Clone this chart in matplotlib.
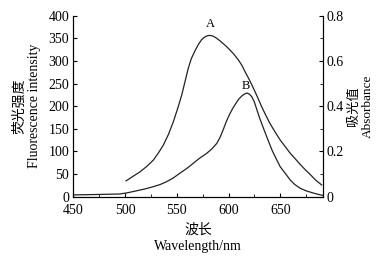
import matplotlib
matplotlib.use('Agg')
import matplotlib.pyplot as plt
from matplotlib.ticker import MultipleLocator

plt.rcParams['font.family'] = ['Liberation Serif', 'Noto Sans CJK SC']
plt.rcParams['font.size'] = 10

# curve A
wl_a = [501, 507, 514.5, 521, 527.4, 532, 537, 542, 546.7, 551, 554.8, 558, 561,
        564, 567.7, 571, 574, 577, 580, 582, 585, 588, 592, 597, 601.5, 605.5,
        609.6, 613, 616, 620, 624, 628, 632, 636, 640, 645, 650, 655, 659.6,
        664, 669, 674, 679, 684, 690]
val_a = [35, 44, 55, 67, 81, 96, 114, 138, 166, 196, 225, 255, 283,
         305, 323, 337, 347, 353, 356, 356.5, 355, 351, 344, 334, 324, 314,
         302, 290, 276, 259, 240, 220, 199, 180, 162, 143, 125, 110, 96,
         85, 72, 60, 49, 37, 26]

# curve B
wl_b = [450, 475, 495, 503, 511, 519, 527, 534, 540, 547, 553, 560, 566, 572,
        579, 584, 588.7, 592, 595, 598, 601, 604, 607, 610, 613, 615.5, 617.7,
        620, 622.5, 625, 627, 630, 633.8, 638, 642, 646, 650, 655, 659.6, 664,
        669, 675, 682, 687, 691]
val_b = [4, 5, 6, 9, 13, 17, 22, 27, 33, 42, 52, 63, 74, 85,
         96, 106, 118, 132, 149, 167, 182, 195, 206, 216, 223, 227, 229,
         227, 221, 209, 195, 174, 151, 126, 103, 84, 66, 51, 37, 27,
         19, 13, 8, 5, 3]

fig = plt.figure(figsize=(3.81, 2.72), dpi=100)
ax = fig.add_axes([0.1924, 0.2768, 0.6546, 0.6654])

ax.plot(wl_a, val_a, color='#222222', lw=0.9)
ax.plot(wl_b, val_b, color='#222222', lw=0.9)
ax.text(582, 381, 'A', ha='center', va='center', fontsize=9)
ax.text(617, 245, 'B', ha='center', va='center', fontsize=9)

ax.set_xlim(450, 691)
ax.set_ylim(0, 400)
ax.xaxis.set_major_locator(MultipleLocator(50))
ax.xaxis.set_minor_locator(MultipleLocator(25))
ax.yaxis.set_major_locator(MultipleLocator(50))
ax.spines['top'].set_visible(False)
ax.tick_params(which='both', direction='in', top=False, right=False)
ax.tick_params(axis='y', which='major', length=3, pad=3)
ax.tick_params(axis='x', which='major', length=3, pad=5)
ax.tick_params(which='minor', length=2)

ax2 = ax.twinx()
ax2.set_ylim(0, 0.8)
ax2.yaxis.set_major_locator(MultipleLocator(0.2))
ax2.yaxis.set_minor_locator(MultipleLocator(0.1))
ax2.yaxis.set_major_formatter(plt.FuncFormatter(lambda v, p: '0' if v == 0 else f'{v:.1f}'))
ax2.spines['top'].set_visible(False)
ax2.tick_params(which='both', direction='in')
ax2.tick_params(which='major', length=3, pad=3)
ax2.tick_params(which='minor', length=2)

ax.set_ylabel('荧光强度\nFluorescence intensity', labelpad=5, linespacing=1.25)
ax2.set_ylabel('吸光值\nAbsorbance', labelpad=3, linespacing=1.2, fontsize=9.5)
ax.set_xlabel('波长\nWavelength/nm', labelpad=5, linespacing=1.3)

fig.savefig('out.png', dpi=100)
